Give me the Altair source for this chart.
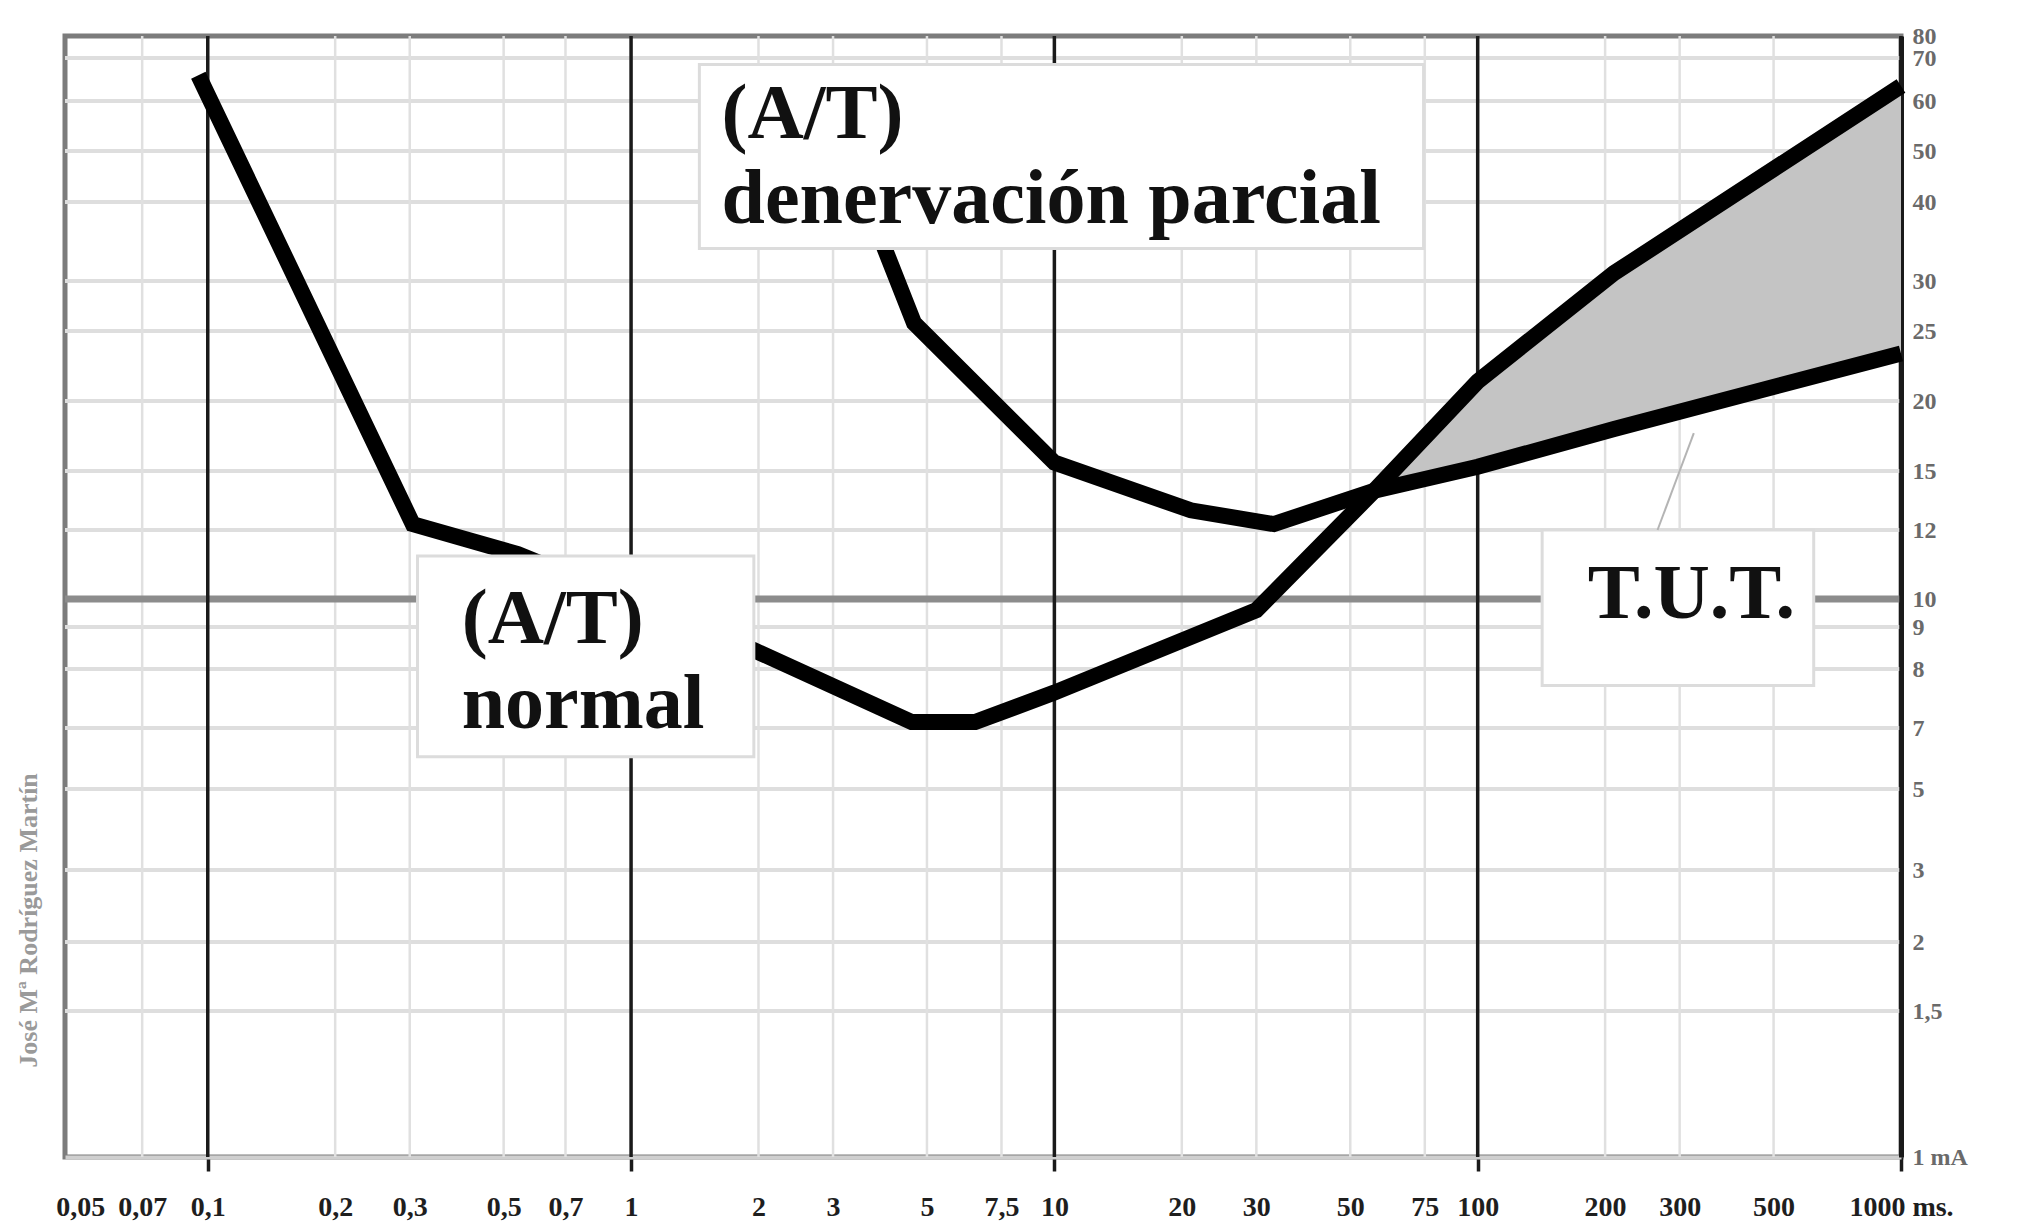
import altair as alt
import pandas as pd

# ---------------- data ----------------
x_ticks = [0.05, 0.07, 0.1, 0.2, 0.3, 0.5, 0.7, 1, 2, 3, 5, 7.5, 10, 20, 30, 50, 75,
           100, 200, 300, 500, 1000]
x_major = [0.1, 1, 10, 100, 1000]
x_minor = [0.07, 0.2, 0.3, 0.5, 0.7, 2, 3, 5, 7.5, 20, 30, 50, 75, 200, 300, 500]

y_ticks = [1, 1.5, 2, 3, 5, 7, 8, 9, 10, 12, 15, 20, 25, 30, 40, 50, 60, 70, 80]
y_grid = [1.5, 2, 3, 5, 7, 8, 9, 12, 15, 20, 25, 30, 40, 50, 60, 70]
y_threshold = [10]

# (A/T) normal curve: duration (ms) / intensity (mA)
normal_x = [0.095, 0.305, 0.54, 1.95, 4.6, 6.5, 10, 30, 57, 100, 210, 1000]
normal_y = [66, 12.3, 11.3, 8.45, 7.1, 7.1, 7.6, 9.6, 14.0, 21.4, 31.0, 63.5]

# (A/T) denervación parcial curve
denerv_x = [3.9, 4.66, 10, 21, 33, 57, 100, 210, 1000]
denerv_y = [35.2, 25.8, 15.6, 13.0, 12.3, 14.0, 15.3, 18.0, 23.4]

# shaded zone (T.U.T.) begins where the curves cross
fill_start = 57

# annotation boxes (data coordinates)
box_names = ["denervacion", "normal", "tut"]
box_x1 = [1.45, 0.313, 142]
box_x2 = [74.5, 1.95, 622]
box_y1 = [68.5, 11.25, 12.0]
box_y2 = [34.1, 6.06, 7.72]

label_text = ["(A/T)", "denervación parcial", "(A/T)", "normal", "T.U.T."]
label_x = [1.636, 1.636, 0.398, 0.398, 182]
label_y = [52.6, 37.3, 8.63, 7.0, 9.32]

leader_x = [266, 324]
leader_y = [12.0, 17.7]

credit_text = ["José Mª Rodríguez Martín"]
credit_x = [0.046]
credit_y = [2.3]

# ---------------- scales ----------------
PLOT_W, PLOT_H = 1836, 1121
# the printed grid of the original is irregular: position of each labelled value
y_px = [1121, 975, 906, 834, 753, 692, 633, 591, 563, 494, 435, 365, 295, 245,
        166, 115, 65, 22, 0]

X_SCALE = alt.Scale(type="log", domain=[0.046, 1000], nice=False)
Y_SCALE = alt.Scale(type="linear", domain=y_ticks, range=y_px, nice=False, zero=False)

SERIF = "Liberation Serif"

major_test = " || ".join(f"datum.value == {v}" for v in x_major)

X_AX = alt.Axis(
    values=x_ticks,
    labelExpr="datum.value == 1000 ? '1000 ms.' : replace(toString(datum.value), '.', ',')",
    title=None, grid=False,
    ticks=True, tickSize=14, tickWidth=3.5,
    tickColor={"condition": {"test": major_test, "value": "#1a1a1a"}, "value": "rgba(0,0,0,0)"},
    domainColor="#cfcfcf", domainWidth=4,
    labelPadding=22, labelFont=SERIF, labelFontSize=28, labelFontWeight="bold",
    labelColor="#1e1e1e", labelOverlap=False, labelFlush=False, labelBound=False,
)

Y_AX = alt.Axis(
    orient="right", values=y_ticks,
    labelExpr="datum.value == 1 ? '1 mA' : replace(toString(datum.value), '.', ',')",
    title=None, grid=False, ticks=False,
    domainColor="#1a1a1a", domainWidth=5,
    labelPadding=11, labelFont=SERIF, labelFontSize=24, labelFontWeight="bold",
    labelColor="#6a6a6a", labelOverlap=False, labelFlush=False, labelBound=False,
)


def X(field):
    return alt.X(field, type="quantitative", scale=X_SCALE, axis=X_AX)


def Y(field):
    return alt.Y(field, type="quantitative", scale=Y_SCALE, axis=Y_AX)


# ---------------- tables ----------------
df_xminor = pd.DataFrame({"x": x_minor})
df_xmajor = pd.DataFrame({"x": x_major})
df_ygrid = pd.DataFrame({"y": y_grid})
df_thr = pd.DataFrame({"y": y_threshold})
df_normal = pd.DataFrame({"x": normal_x, "y": normal_y})
df_denerv = pd.DataFrame({"x": denerv_x, "y": denerv_y})

lo_lookup = dict(zip(denerv_x, denerv_y))
fill_rows = [(x, y, lo_lookup[x]) for x, y in zip(normal_x, normal_y)
             if x >= fill_start and x in lo_lookup]
df_fill = pd.DataFrame(fill_rows, columns=["x", "hi", "lo"])

df_box = pd.DataFrame({"name": box_names, "x1": box_x1, "x2": box_x2,
                       "y1": box_y1, "y2": box_y2})
df_lab = pd.DataFrame({"t": label_text, "x": label_x, "y": label_y})
df_lead = pd.DataFrame({"x": leader_x, "y": leader_y})
df_credit = pd.DataFrame({"t": credit_text, "x": credit_x, "y": credit_y})

# ---------------- layers ----------------
hgrid = alt.Chart(df_ygrid).mark_rule(color="#dedede", strokeWidth=4).encode(y=Y("y"))

vminor = alt.Chart(df_xminor).mark_rule(color="#e0e0e0", strokeWidth=2.5).encode(x=X("x"))

thr = alt.Chart(df_thr).mark_rule(color="#8c8c8c", strokeWidth=7).encode(y=Y("y"))

vmajor = alt.Chart(df_xmajor).mark_rule(color="#1a1a1a", strokeWidth=3.5).encode(x=X("x"))

fill = alt.Chart(df_fill).mark_area(color="#c4c4c4", opacity=1).encode(
    x=X("x"), y=Y("hi"), y2="lo:Q")

line_kw = dict(color="black", strokeWidth=16, strokeJoin="miter", strokeCap="butt")
normal_line = alt.Chart(df_normal).mark_line(**line_kw).encode(
    x=X("x"), y=Y("y"), order="x:Q")
denerv_line = alt.Chart(df_denerv).mark_line(**line_kw).encode(
    x=X("x"), y=Y("y"), order="x:Q")

boxes = alt.Chart(df_box).mark_rect(fill="white", stroke="#dcdcdc", strokeWidth=3).encode(
    x=X("x1"), x2="x2:Q", y=Y("y1"), y2="y2:Q")

labels = alt.Chart(df_lab).mark_text(
    align="left", baseline="alphabetic", font=SERIF, fontWeight="bold",
    fontSize=78, color="#111111").encode(x=X("x"), y=Y("y"), text="t:N")

leader = alt.Chart(df_lead).mark_line(color="#b4b4b4", strokeWidth=2).encode(
    x=X("x"), y=Y("y"))

credit = alt.Chart(df_credit).mark_text(
    angle=270, align="center", baseline="middle", dy=-36,
    font=SERIF, fontSize=26, fontWeight="bold", color="#9a9a9a").encode(
    x=X("x"), y=Y("y"), text="t:N")

chart = alt.layer(
    hgrid, vminor, thr, vmajor, fill, normal_line, denerv_line,
    boxes, labels, leader, credit,
).properties(
    width=PLOT_W, height=PLOT_H,
    autosize=alt.AutoSizeParams(type="none"),
    padding={"left": 65, "top": 36, "right": 127, "bottom": 74},
    background="white",
).configure_view(stroke="#7c7c7c", strokeWidth=5)

chart.save("out.html", embed_options={"renderer": "svg", "actions": False})
